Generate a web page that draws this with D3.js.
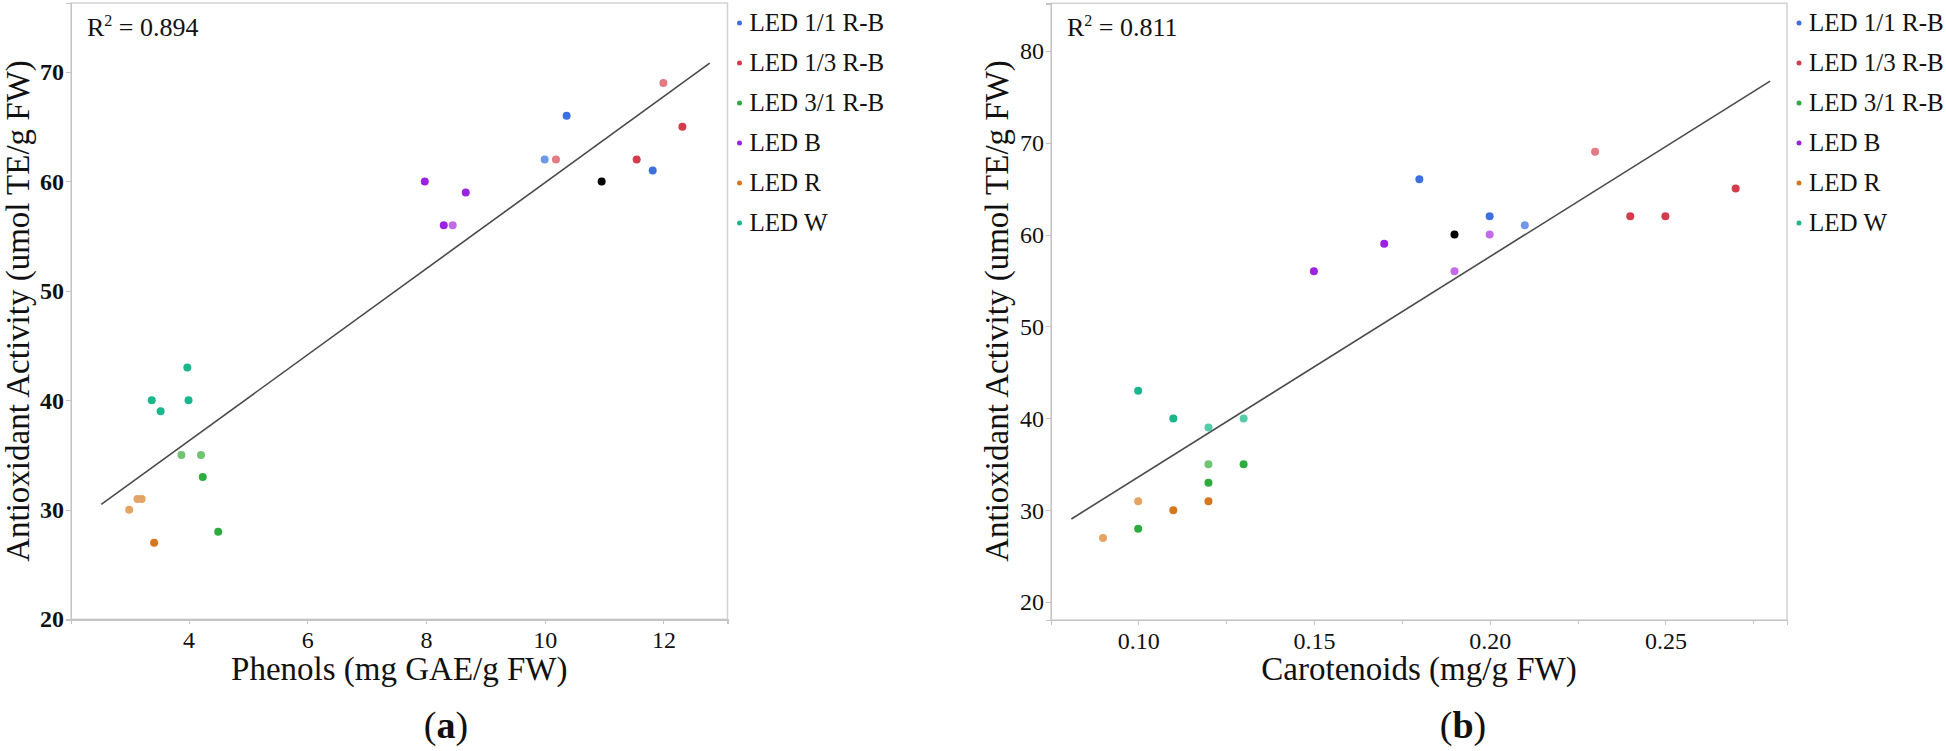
<!DOCTYPE html>
<html>
<head>
<meta charset="utf-8">
<script src="https://cdn.jsdelivr.net/npm/d3@7"></script>
<style>
  html, body { margin: 0; padding: 0; background: #fff; }
  svg { display: block; }
  .axis path, .axis line { stroke: #c4c4c4; shape-rendering: crispEdges; }
  .axis text { font-family: "Liberation Serif", serif; fill: #111; }
</style>
</head>
<body>
<svg id="chart" width="1946" height="751"></svg>
<script>
// ---------- data ----------
const groups = ["LED 1/1 R-B", "LED 1/3 R-B", "LED 3/1 R-B", "LED B", "LED R", "LED W"];
const darkColors  = ["#3c6fe0", "#d43b4b", "#2eab3e", "#9a22e0", "#d8761f", "#1ab68c"];
const lightColors = ["#6f98ea", "#e37b84", "#6fc474", "#c46ae8", "#e4a466", "#55cca8"];

// Panel (a): phenols vs antioxidant activity
const aGroup = [0, 0, 0, 0,   1, 1, 1, 1,   2, 2, 2, 2,   3, 3, 3, 3,   4, 4, 4, 4,   5, 5, 5, 5];
const aPhenols = [10.37, 10.0, 11.82, 10.96,  10.19, 12.0, 12.32, 11.55,  3.88, 4.21, 4.24, 4.50,
                  7.98, 8.67, 8.30, 8.45,  3.0, 3.14, 3.21, 3.42,  3.98, 3.38, 4.0, 3.53];
const aActivity = [66, 62, 61, 60,  62, 69, 65, 62,  35, 35, 33, 28,
                   60, 59, 56, 56,  30, 31, 31, 27,  43, 40, 40, 39];
const aTone = ["d", "l", "d", "k",  "l", "l", "d", "d",  "l", "l", "d", "d",
               "d", "d", "d", "l",  "l", "l", "l", "d",  "d", "d", "d", "d"];

// Panel (b): carotenoids vs antioxidant activity
const bGroup = [0, 0, 0, 0,   1, 1, 1, 1,   2, 2, 2, 2,   3, 3, 3, 3,   4, 4, 4, 4,   5, 5, 5, 5];
const bCarotenoids = [0.18, 0.20, 0.21, 0.19,  0.23, 0.24, 0.25, 0.27,  0.12, 0.13, 0.12, 0.10,
                      0.17, 0.15, 0.20, 0.19,  0.10, 0.11, 0.12, 0.09,  0.10, 0.11, 0.12, 0.13];
const bActivity = [66, 62, 61, 60,  69, 62, 62, 65,  35, 35, 33, 28,
                   59, 56, 60, 56,  31, 30, 31, 27,  43, 40, 39, 40];
const bTone = ["d", "d", "l", "k",  "l", "d", "d", "d",  "l", "d", "d", "d",
               "d", "d", "l", "l",  "l", "d", "d", "l",  "d", "d", "l", "l"];

// fit lines (endpoints)
const aFitX = [2.53, 12.78], aFitY = [30.5, 70.8];
const bFitX = [0.081, 0.2798], bFitY = [29.06, 76.69];
const aR2 = "0.894", bR2 = "0.811";

const aXTicks = [4, 6, 8, 10, 12];
const aYTicks = [20, 30, 40, 50, 60, 70];
const bXTicks = [0.10, 0.15, 0.20, 0.25];
const bXMinor = [0.125, 0.175, 0.225, 0.275];
const bYTicks = [20, 30, 40, 50, 60, 70, 80];

// ---------- drawing ----------
const svg = d3.select("#chart");
const serif = '"Liberation Serif", serif';

function panel(opt) {
  const x = d3.scaleLinear().domain(opt.xDomain).range([opt.left, opt.right]);
  const y = d3.scaleLinear().domain(opt.yDomain).range([opt.bottom, opt.top]);
  const g = svg.append("g");

  // frame
  g.append("rect")
    .attr("x", opt.left).attr("y", opt.top)
    .attr("width", opt.right - opt.left).attr("height", opt.bottom - opt.top)
    .attr("fill", "none").attr("stroke", "#d2d2d2").attr("stroke-width", 1.5);

  // x axis
  const xa = g.append("g").attr("class", "axis")
    .attr("transform", `translate(0,${opt.bottom})`)
    .call(d3.axisBottom(x).tickValues(opt.xTicks).tickSize(5).tickPadding(7)
      .tickFormat(opt.xFormat));
  xa.select(".domain").attr("stroke", "#c4c4c4").attr("stroke-width", 1.5);
  xa.selectAll("text").attr("font-size", 24);
  if (opt.xMinor) {
    g.append("g").attr("class", "axis")
      .attr("transform", `translate(0,${opt.bottom})`)
      .call(d3.axisBottom(x).tickValues(opt.xMinor).tickSize(4).tickFormat(""))
      .select(".domain").remove();
  }

  // y axis
  const ya = g.append("g").attr("class", "axis")
    .attr("transform", `translate(${opt.left},0)`)
    .call(d3.axisLeft(y).tickValues(opt.yTicks).tickSize(5).tickPadding(2));
  ya.select(".domain").attr("stroke", "#c4c4c4").attr("stroke-width", 1.5);
  ya.selectAll("text").attr("font-size", 24).attr("font-weight", opt.yBold ? "bold" : "normal");

  // fit line
  g.append("line")
    .attr("x1", x(opt.fitX[0])).attr("y1", y(opt.fitY[0]))
    .attr("x2", x(opt.fitX[1])).attr("y2", y(opt.fitY[1]))
    .attr("stroke", "#4a4a4a").attr("stroke-width", 1.6);

  // points
  const pts = opt.gx.map((v, i) => ({ x: v, y: opt.gy[i], g: opt.grp[i], t: opt.tone[i] }));
  g.selectAll("circle.pt").data(pts).enter().append("circle")
    .attr("class", "pt")
    .attr("cx", d => x(d.x)).attr("cy", d => y(d.y)).attr("r", 4)
    .attr("fill", d => d.t === "k" ? "#000" : (d.t === "l" ? lightColors[d.g] : darkColors[d.g]));

  // R2
  const r = g.append("text")
    .attr("x", opt.left + 16).attr("y", opt.top + 33)
    .attr("font-family", serif).attr("font-size", 26).attr("fill", "#111");
  r.append("tspan").text("R");
  r.append("tspan").attr("font-size", 16).attr("dy", -10).text("2");
  r.append("tspan").attr("dy", 10).text(" = " + opt.r2);

  // axis titles
  g.append("text")
    .attr("x", (opt.left + opt.right) / 2).attr("y", 680)
    .attr("text-anchor", "middle").attr("font-family", serif).attr("font-size", 33)
    .attr("fill", "#111").text(opt.xTitle);
  g.append("text")
    .attr("transform", `translate(${opt.yTitleX},311) rotate(-90)`)
    .attr("text-anchor", "middle").attr("font-family", serif).attr("font-size", 33)
    .attr("fill", "#111").text("Antioxidant Activity (umol TE/g FW)");

  // panel letter
  const pl = g.append("text")
    .attr("x", opt.letterX).attr("y", 738)
    .attr("text-anchor", "middle").attr("font-family", serif).attr("font-size", 38)
    .attr("fill", "#111");
  pl.append("tspan").text("(");
  pl.append("tspan").attr("font-weight", "bold").text(opt.letter);
  pl.append("tspan").text(")");

  // legend
  const lg = g.append("g").attr("transform", `translate(${opt.right + 12},0)`);
  groups.forEach((name, i) => {
    const yy = 31 + i * 40;
    lg.append("circle").attr("cx", 0).attr("cy", yy - 8).attr("r", 2.5).attr("fill", darkColors[i]);
    lg.append("text").attr("x", 10).attr("y", yy)
      .attr("font-family", serif).attr("font-size", 25).attr("fill", "#111").text(name);
  });
}

panel({
  left: 71, right: 727.5, top: 3, bottom: 619.3,
  xDomain: [2.02, 13.08], yDomain: [20, 76.3],
  xTicks: aXTicks, yTicks: aYTicks, xFormat: d3.format("d"), yBold: true,
  gx: aPhenols, gy: aActivity, grp: aGroup, tone: aTone,
  fitX: aFitX, fitY: aFitY, r2: aR2,
  xTitle: "Phenols (mg GAE/g FW)", yTitleX: 29, letter: "a", letterX: 446
});

panel({
  left: 1051, right: 1787, top: 3.3, bottom: 620,
  xDomain: [0.0752, 0.2846], yDomain: [18.07, 85.15],
  xTicks: bXTicks, xMinor: bXMinor, yTicks: bYTicks, xFormat: d3.format(".2f"), yBold: false,
  gx: bCarotenoids, gy: bActivity, grp: bGroup, tone: bTone,
  fitX: bFitX, fitY: bFitY, r2: bR2,
  xTitle: "Carotenoids (mg/g FW)", yTitleX: 1008, letter: "b", letterX: 1463
});
</script>
</body>
</html>
